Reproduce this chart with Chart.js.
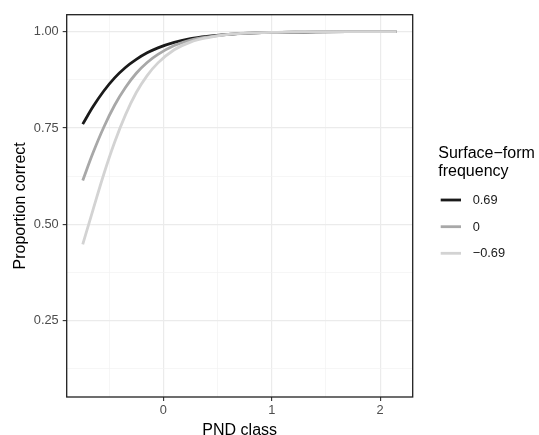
<!DOCTYPE html>
<html>
<head>
<meta charset="utf-8">
<script src="https://cdn.jsdelivr.net/npm/chart.js@4"></script>
<style>
html,body{margin:0;padding:0;background:#fff;}
#wrap{width:539px;height:435px;position:relative;}
</style>
</head>
<body>
<div id="wrap"><canvas id="c" width="539" height="435"></canvas></div>
<script>
// ---- data ----
const xValues  = [-0.744,-0.65,-0.55,-0.45,-0.35,-0.25,-0.15,-0.05,0.1,0.25,0.4,0.6,0.8,1.0,1.3,1.7,2.149];
const freqHigh = [0.760,0.805,0.846,0.880,0.907,0.928,0.945,0.958,0.972,0.982,0.988,0.993,0.996,0.998,0.999,1.000,1.000]; // 0.69
const freqMid  = [0.614,0.685,0.752,0.809,0.855,0.892,0.920,0.941,0.964,0.978,0.986,0.993,0.996,0.998,0.999,1.000,1.000]; // 0
const freqLow  = [0.448,0.537,0.630,0.713,0.784,0.842,0.886,0.919,0.953,0.973,0.984,0.993,0.997,0.998,1.000,1.000,1.000]; // -0.69
const seriesLabels = ['0.69','0','\u22120.69'];
const seriesColors = ['#1a1a1a','#a8a8a8','#d3d3d3'];
const xMajorTicks = [0,1,2];
const xTickLabels = ['0','1','2'];
const xMinorTicks = [-0.5,0.5,1.5];
const yMajorTicks = [0.25,0.5,0.75,1.0];
const yTickLabels = ['0.25','0.50','0.75','1.00'];
const yMinorTicks = [0.125,0.375,0.625,0.875];
const legendTitle = ['Surface\u2212form','frequency'];
const xTitle = 'PND class';
const yTitle = 'Proportion correct';

const FONT = '"Liberation Sans", Arial, sans-serif';
const series = [freqHigh, freqMid, freqLow];
const datasets = series.map((s,i)=>({
  label: seriesLabels[i],
  data: xValues.map((x,j)=>({x:x,y:s[j]})),
  borderColor: seriesColors[i],
  backgroundColor: seriesColors[i],
  borderWidth: 2.8,
  pointRadius: 0,
  fill: false,
  cubicInterpolationMode: 'monotone',
  order: 2 - i
}));

function buildTicks(major, minor){
  return [...minor, ...major].sort((a,b)=>a-b).map(v=>({value:v, major: major.includes(v)}));
}
function isMajor(list, v){ return list.some(m=>Math.abs(m-v)<1e-9); }

const framePlugin = {
  id:'frame',
  afterDraw(chart){
    const ctx = chart.ctx, a = chart.chartArea;
    ctx.save();
    ctx.strokeStyle = '#1f1f1f';
    ctx.lineWidth = 1.3;
    ctx.strokeRect(a.left, a.top, a.right-a.left, a.bottom-a.top);
    // axis titles
    ctx.fillStyle = '#000';
    ctx.font = '16px ' + FONT;
    ctx.textAlign = 'center';
    ctx.textBaseline = 'alphabetic';
    ctx.fillText(xTitle, (a.left+a.right)/2, 434.5);
    ctx.save();
    ctx.translate(25, (a.top+a.bottom)/2);
    ctx.rotate(-Math.PI/2);
    ctx.fillText(yTitle, 0, 0);
    ctx.restore();
    // legend
    ctx.textAlign = 'left';
    ctx.fillText(legendTitle[0], 438.3, 158.3);
    ctx.fillText(legendTitle[1], 438.3, 175.7);
    const keyY = [200, 226.7, 253.3];
    chart.data.datasets.forEach((ds,i)=>{
      ctx.strokeStyle = ds.borderColor;
      ctx.lineWidth = ds.borderWidth;
      ctx.beginPath();
      ctx.moveTo(440.7, keyY[i]);
      ctx.lineTo(461, keyY[i]);
      ctx.stroke();
      ctx.fillStyle = '#1a1a1a';
      ctx.font = '12.8px ' + FONT;
      ctx.textBaseline = 'middle';
      ctx.fillText(ds.label, 472.7, keyY[i]+0.5);
    });
    ctx.restore();
  }
};

new Chart(document.getElementById('c'), {
  type: 'line',
  data: { datasets },
  options: {
    responsive: false,
    animation: false,
    events: [],
    layout: { padding: { left: 0, top: 14.7, right: 126.3, bottom: 0 } },
    plugins: { legend: { display: false }, tooltip: { enabled: false } },
    scales: {
      x: {
        type: 'linear',
        min: -0.892, max: 2.30,
        afterBuildTicks(s){ s.ticks = buildTicks(xMajorTicks, xMinorTicks); },
        afterFit(s){ s.height = 38; },
        border: { display: false },
        grid: {
          color: c => isMajor(xMajorTicks, c.tick.value) ? '#ebebeb' : '#f2f2f2',
          lineWidth: c => isMajor(xMajorTicks, c.tick.value) ? 1.2 : 0.7,
          tickColor: c => isMajor(xMajorTicks, c.tick.value) ? '#333333' : 'rgba(0,0,0,0)',
          tickLength: 4,
          tickWidth: 1.1,
          drawOnChartArea: true
        },
        ticks: {
          autoSkip: false,
          maxRotation: 0,
          padding: 2,
          color: '#4d4d4d',
          font: { family: FONT, size: 12.8 },
          callback: v => { const k = xMajorTicks.findIndex(m=>Math.abs(m-v)<1e-9); return k>=0 ? xTickLabels[k] : ''; }
        }
      },
      y: {
        type: 'linear',
        min: 0.052, max: 1.044,
        afterBuildTicks(s){ s.ticks = buildTicks(yMajorTicks, yMinorTicks); },
        afterFit(s){ s.width = 66.7; },
        border: { display: false },
        grid: {
          color: c => isMajor(yMajorTicks, c.tick.value) ? '#ebebeb' : '#f2f2f2',
          lineWidth: c => isMajor(yMajorTicks, c.tick.value) ? 1.2 : 0.7,
          tickColor: c => isMajor(yMajorTicks, c.tick.value) ? '#333333' : 'rgba(0,0,0,0)',
          tickLength: 4,
          tickWidth: 1.1
        },
        ticks: {
          autoSkip: false,
          padding: 4,
          color: '#4d4d4d',
          font: { family: FONT, size: 12.8 },
          callback: v => { const k = yMajorTicks.findIndex(m=>Math.abs(m-v)<1e-9); return k>=0 ? yTickLabels[k] : ''; }
        }
      }
    }
  },
  plugins: [framePlugin]
});
</script>
</body>
</html>
